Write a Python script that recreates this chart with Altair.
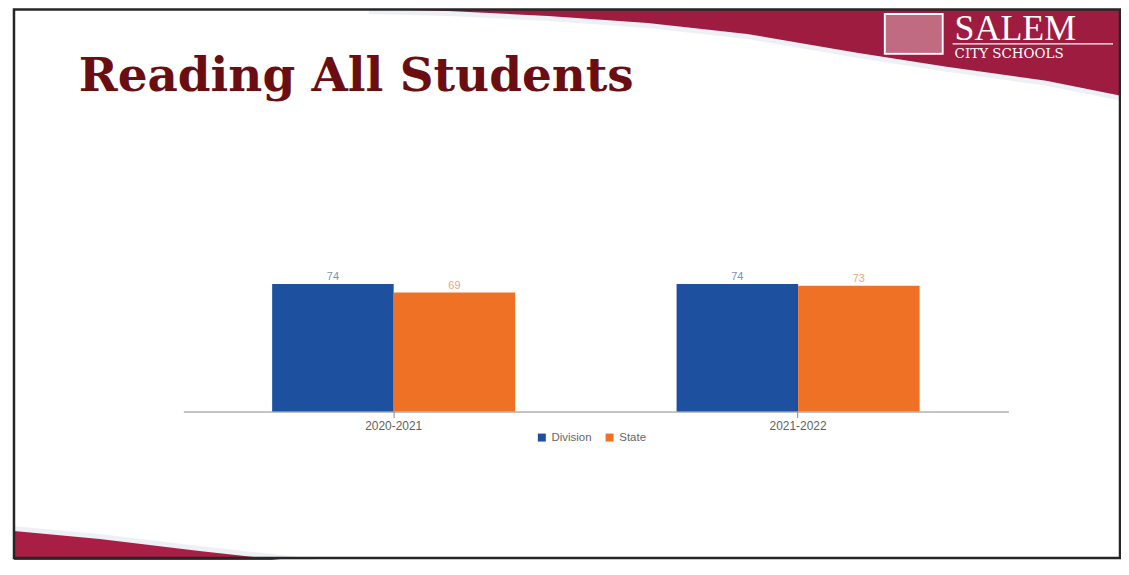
import altair as alt
import pandas as pd

# ---- chart data ----
years = ["2020-2021", "2021-2022"]
series_names = ["Division", "State"]
division = [74, 74]
state = [69, 73]
bar_colors = ["#1d51a0", "#ee7125"]
label_colors = ["#7d8fb3", "#f0a478"]

rows = []
for i, yr in enumerate(years):
    rows.append({"year": yr, "series": "Division", "value": division[i], "lc": label_colors[0]})
    rows.append({"year": yr, "series": "State", "value": state[i], "lc": label_colors[1]})
df = pd.DataFrame(rows)

# ---- slide decoration outlines (page coordinates) ----
top_edge_x = [370, 450, 550, 650, 750, 860, 950, 1050, 1125]
top_edge_y = [8, 10, 15, 22, 33, 52, 66, 80, 95]
bot_edge_x = [14, 100, 200, 300, 360, 430]
bot_edge_y = [532, 540, 552, 563, 573, 580]

W, H = 1117, 552

xdec = alt.Scale(domain=[8, 8 + W], range=[0, W], zero=False, nice=False)
ydec = alt.Scale(domain=[8, 8 + H], range=[0, H], zero=False, nice=False)

top_df = pd.DataFrame({"x": top_edge_x, "y": top_edge_y, "y2": [8] * len(top_edge_x),
                       "ys": [v + 5 for v in top_edge_y]})
bot_df = pd.DataFrame({"x": bot_edge_x, "y": bot_edge_y, "y2": [600] * len(bot_edge_x),
                       "ys": [v - 5 for v in bot_edge_y]})

top_shadow = alt.Chart(top_df).mark_area(color="#e6eaf0", opacity=0.7).encode(
    x=alt.X("x:Q", scale=xdec, axis=None),
    y=alt.Y("ys:Q", scale=ydec, axis=None),
    y2="y2:Q",
)
top_red = alt.Chart(top_df).mark_area(color="#9e1c40").encode(
    x=alt.X("x:Q", scale=xdec, axis=None),
    y=alt.Y("y:Q", scale=ydec, axis=None),
    y2="y2:Q",
)
bot_shadow = alt.Chart(bot_df).mark_area(color="#e6eaf0", opacity=0.7).encode(
    x=alt.X("x:Q", scale=xdec, axis=None),
    y=alt.Y("ys:Q", scale=ydec, axis=None),
    y2="y2:Q",
)
bot_red = alt.Chart(bot_df).mark_area(color="#a81e45").encode(
    x=alt.X("x:Q", scale=xdec, axis=None),
    y=alt.Y("y:Q", scale=ydec, axis=None),
    y2="y2:Q",
)

one = pd.DataFrame({"t": ["Reading All Students"]})
border = alt.Chart(one).mark_rect(filled=False, stroke="#262626", strokeWidth=2.5).encode(
    x=alt.value(6), x2=alt.value(1116), y=alt.value(0.5), y2=alt.value(551)
)
title = alt.Chart(one).mark_text(
    align="left", baseline="alphabetic", font="DejaVu Serif", fontWeight="bold",
    fontSize=47, color="#6b0e12"
).encode(x=alt.value(71), y=alt.value(82), text="t:N")

logo_fill = alt.Chart(one).mark_rect(fill="white", opacity=0.35).encode(
    x=alt.value(881), x2=alt.value(937), y=alt.value(6), y2=alt.value(44)
)
logo_box = alt.Chart(one).mark_rect(filled=False, stroke="white", strokeWidth=2).encode(
    x=alt.value(880), x2=alt.value(938), y=alt.value(5), y2=alt.value(45)
)
salem = alt.Chart(pd.DataFrame({"t": ["SALEM"]})).mark_text(
    align="left", baseline="alphabetic", font="Liberation Serif", fontSize=36, color="white"
).encode(x=alt.value(950), y=alt.value(31), text="t:N")
logo_line = alt.Chart(one).mark_rule(color="white", strokeWidth=1.2).encode(
    x=alt.value(948), x2=alt.value(1109), y=alt.value(35)
)
city = alt.Chart(pd.DataFrame({"t": ["CITY SCHOOLS"]})).mark_text(
    align="left", baseline="alphabetic", font="DejaVu Serif", fontSize=13.5, color="white"
).encode(x=alt.value(950), y=alt.value(49), text="t:N")

decor = alt.layer(top_shadow, top_red, bot_shadow, bot_red, border, title,
                  logo_fill, logo_box, salem, logo_line, city)

# ---- the bar chart ----
xs = alt.Scale(domain=years, range=[176, 1004], paddingInner=0, paddingOuter=0.02)
xo = alt.Scale(domain=series_names, paddingInner=0, paddingOuter=0.664)
ys = alt.Scale(domain=[0, 100], range=[404, 231], nice=False, zero=True)
xaxis = alt.Axis(title=None, labelAngle=0, offset=-(H - 404), domainColor="#8a8a8a",
                 tickColor="#8a8a8a", tickSize=6, labelColor="#5f5f5f",
                 labelFont="Liberation Sans", labelFontSize=12, labelPadding=3,
                 grid=False)

bars = alt.Chart(df).mark_bar().encode(
    x=alt.X("year:N", scale=xs, sort=years, axis=xaxis),
    xOffset=alt.XOffset("series:N", scale=xo, sort=series_names),
    y=alt.Y("value:Q", scale=ys, axis=None),
    color=alt.Color("series:N", scale=alt.Scale(domain=series_names, range=bar_colors),
                    legend=alt.Legend(title=None, orient="none", legendX=530, legendY=424,
                                      direction="horizontal", symbolType="square",
                                      symbolSize=64, labelFontSize=11.5,
                                      labelFont="Liberation Sans", labelColor="#666666",
                                      columnPadding=12)),
)
labels = alt.Chart(df).mark_text(baseline="bottom", dy=-2, fontSize=11,
                                 font="Liberation Sans").encode(
    x=alt.X("year:N", scale=xs, sort=years, axis=xaxis),
    xOffset=alt.XOffset("series:N", scale=xo, sort=series_names),
    y=alt.Y("value:Q", scale=ys, axis=None),
    text="value:Q",
    color=alt.Color("lc:N", scale=None),
)
plot = alt.layer(bars, labels)

chart = alt.layer(decor, plot).resolve_scale(
    x="independent", y="independent"
).properties(
    width=W, height=H, autosize="none", padding=0, background="white"
).configure_view(stroke=None)

chart.save("out.html", embed_options={"renderer": "svg", "actions": False})
